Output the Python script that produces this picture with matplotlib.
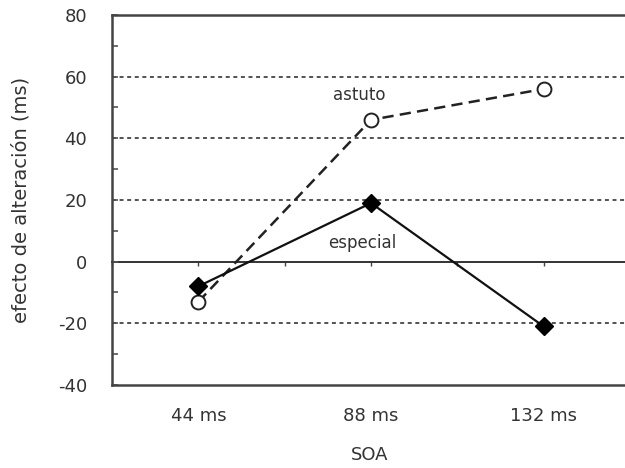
import matplotlib
matplotlib.use("Agg")
import matplotlib.pyplot as plt
import numpy as np

categories = ["44 ms", "88 ms", "132 ms"]
astuto = [-13, 46, 56]
especial = [-8, 19, -21]
yticks = [-40, -20, 0, 20, 40, 60, 80]
grid_levels = [-20, 20, 40, 60]

plt.rcParams['font.family'] = ['DejaVu Sans']
fig = plt.figure(figsize=(6.25, 4.68), dpi=100)
W, H = 625, 468
l, r, t, b = 112, 630, 15, 385
ax = fig.add_axes([l / W, 1 - b / H, (r - l) / W, (b - t) / H])

x = np.arange(len(categories))
ymin, ymax = -40, 80
ax.set_xlim(-0.5, 2.5)
ax.set_ylim(ymin, ymax)

dark = "#333333"
for g in grid_levels:
    ax.axhline(g, color="#444444", lw=1.3, ls=(0, (2.2, 2.0)), zorder=1)

ax.plot(x, astuto, color="#222222", lw=1.8, ls=(0, (4.5, 2.5)), marker="o",
        ms=10, mfc="white", mec="#222222", mew=1.4, zorder=4)
ax.plot(x, especial, color="#111111", lw=1.6, ls="-", marker="D",
        ms=9, mfc="black", mec="black", zorder=5)

ax.text(1.0 - 0.07, 54, "astuto", ha="center", va="center", fontsize=12, color="#333333")
ax.text(1.0 - 0.05, 6, "especial", ha="center", va="center", fontsize=12, color="#333333")

ax.spines["right"].set_visible(False)
for s in ["left", "top", "bottom"]:
    ax.spines[s].set_linewidth(1.8)
    ax.spines[s].set_color("#444444")

ax.set_yticks(yticks)
ax.set_yticklabels([str(v) for v in yticks], fontsize=13, color=dark)
ax.set_yticks(np.arange(-30, 80, 20), minor=True)
ax.tick_params(axis="y", which="both", direction="in", length=4, width=1.2,
               color="#555555", pad=18)
ax.set_xticks(x)
ax.set_xticklabels(categories, fontsize=13, color=dark)
ax.tick_params(axis="x", length=0, pad=16)

sec = ax.secondary_xaxis((0 - ymin) / (ymax - ymin))
sec.set_xticks(np.arange(-0.5, 2.6, 0.5))
sec.set_xticklabels([])
sec.tick_params(direction="out", length=3, width=1.0, color="#444444")
sec.spines["bottom"].set_linewidth(1.4)
sec.spines["bottom"].set_color("#333333")

ax.set_ylabel("efecto de alteración (ms)", fontsize=14, color=dark)
ax.yaxis.set_label_coords(-(l - 31) / (r - l), (b - 200) / (b - t))
ax.set_xlabel("SOA", fontsize=13, color=dark)
ax.xaxis.set_label_coords((370 - l) / (r - l), -(446 - b) / (b - t))

fig.savefig("out.png", dpi=100)
